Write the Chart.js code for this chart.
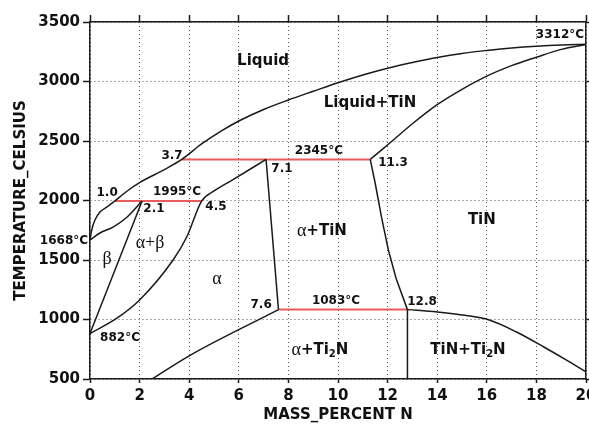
<!DOCTYPE html>
<html>
<head>
    <title>Ti-N phase diagram</title>
    <script src="https://cdn.jsdelivr.net/npm/chart.js"></script>
    <style>
        html, body { margin: 0; padding: 0; background: white; }
        #wrap { width: 589px; height: 426px; }
    </style>
</head>
<body>
<div id="wrap"><canvas id="phaseChart" width="589" height="426"></canvas></div>
<script>
    // Axis ranges / ticks
    const xTicks = [0, 2, 4, 6, 8, 10, 12, 14, 16, 18, 20];
    const yTicks = [500, 1000, 1500, 2000, 2500, 3000, 3500];

    // Phase boundaries (mass % N, temperature C)
    const liquidusX = [1.0, 1.5, 2.0, 3.0, 3.7, 4.5, 5.3, 6.0, 7.0, 8.0, 9.0, 10.0, 11.0, 12.0, 13.0, 14.0, 15.0, 16.0, 17.0, 18.0, 19.0, 20.0];
    const liquidusT = [1995, 2080, 2150, 2260, 2345, 2475, 2585, 2668, 2765, 2845, 2918, 2990, 3055, 3112, 3160, 3202, 3236, 3261, 3282, 3297, 3307, 3312];

    const tinLiqX = [11.3, 11.7, 12.1, 13.0, 14.0, 15.0, 16.0, 17.0, 18.0, 19.0, 20.0];
    const tinLiqT = [2345, 2415, 2485, 2645, 2805, 2934, 3045, 3133, 3204, 3270, 3312];

    const betaLiqX = [0, 0.07, 0.2, 0.4, 0.7, 1.0];
    const betaLiqT = [1668, 1752, 1836, 1903, 1948, 1995];

    const betaSolX = [0, 0.4, 0.93, 1.5, 2.1];
    const betaSolT = [1668, 1727, 1777, 1861, 1995];

    const betaAlphaX = [0, 2.1];
    const betaAlphaT = [882, 1995];

    const alphaX = [0, 1.1, 2.0, 3.35, 3.9, 4.5, 5.0, 5.8, 7.1];
    const alphaT = [882, 1013, 1164, 1500, 1693, 1995, 2080, 2180, 2345];

    const alphaTinX = [7.1, 7.6];
    const alphaTinT = [2345, 1083];

    const ti2nLeftX = [2.5, 4.0, 7.6];
    const ti2nLeftT = [500, 695, 1083];

    const tinLeftX = [11.3, 11.5, 11.75, 12.03, 12.35, 12.8];
    const tinLeftT = [2345, 2145, 1864, 1584, 1340, 1083];

    const tinRightX = [12.8, 14.0, 15.0, 16.1, 17.2, 18.3, 19.2, 20.0];
    const tinRightT = [1083, 1063, 1038, 996, 895, 769, 660, 559];

    const ti2nVertX = [12.8, 12.8];
    const ti2nVertT = [1083, 500];

    // Invariant (red) lines
    const iso1995X = [1.0, 4.5];
    const iso1995T = [1995, 1995];
    const iso2345X = [3.7, 11.3];
    const iso2345T = [2345, 2345];
    const iso1083X = [7.6, 12.8];
    const iso1083T = [1083, 1083];

    function pts(xs, ts) {
        return xs.map((x, i) => ({ x: x, y: ts[i] }));
    }

    function curve(xs, ts, smooth) {
        return {
            data: pts(xs, ts),
            showLine: true,
            borderColor: '#1a1a1a',
            borderWidth: 1.5,
            pointRadius: 0,
            cubicInterpolationMode: smooth ? 'monotone' : 'default',
            tension: 0,
            fill: false
        };
    }

    function redLine(xs, ts) {
        return {
            data: pts(xs, ts),
            showLine: true,
            borderColor: 'rgb(232, 92, 92)',
            borderWidth: 2,
            pointRadius: 0,
            fill: false
        };
    }

    // Text labels: [segments, x, T]
    const SANS = '"DejaVu Sans", Verdana, sans-serif';
    const SERIF = '"Liberation Serif", "DejaVu Serif", serif';
    const bold15 = 'bold 15px ' + SANS;
    const bold12 = 'bold 12px ' + SANS;
    const greek = '18px ' + SERIF;

    const labels = [
        [[['Liquid', bold15]], 6.98, 3172],
        [[['Liquid+TiN', bold15]], 11.29, 2819],
        [[['3312°C', bold12]], 18.95, 3391],
        [[['2345°C', bold12]], 9.23, 2416],
        [[['11.3', bold12]], 12.22, 2315],
        [[['3.7', bold12]], 3.31, 2374],
        [[['7.1', bold12]], 7.74, 2265],
        [[['1.0', bold12]], 0.69, 2063],
        [[['1995°C', bold12]], 3.51, 2071],
        [[['2.1', bold12]], 2.58, 1929],
        [[['4.5', bold12]], 5.08, 1945],
        [[['1668°C', bold12]], -1.05, 1660],
        [[['β', greek]], 0.69, 1508],
        [[['α+β', greek]], 2.42, 1643],
        [[['α', greek]], 5.12, 1340],
        [[['7.6', bold12]], 6.9, 1122],
        [[['882°C', bold12]], 1.21, 845],
        [[['α', greek], ['+TiN', bold15]], 9.35, 1744],
        [[['TiN', bold15]], 15.8, 1836],
        [[['1083°C', bold12]], 9.92, 1156],
        [[['12.8', bold12]], 13.39, 1147],
        [[['α', greek], ['+Ti', bold15], ['2', 'bold 10px ' + SANS, 4], ['N', bold15]], 9.27, 744],
        [[['TiN+Ti', bold15], ['2', 'bold 10px ' + SANS, 4], ['N', bold15]], 15.24, 744]
    ];

    const labelPlugin = {
        id: 'phaseLabels',
        afterDatasetsDraw(chart) {
            const ctx = chart.ctx;
            const xs = chart.scales.x;
            const ys = chart.scales.y;
            ctx.save();
            ctx.fillStyle = '#111';
            ctx.textBaseline = 'middle';
            ctx.textAlign = 'left';
            labels.forEach(([segs, x, t]) => {
                let w = 0;
                segs.forEach(s => { ctx.font = s[1]; w += ctx.measureText(s[0]).width; });
                let px = xs.getPixelForValue(x) - w / 2;
                const py = ys.getPixelForValue(t);
                segs.forEach(s => {
                    ctx.font = s[1];
                    ctx.fillText(s[0], px, py + (s[2] || 0));
                    px += ctx.measureText(s[0]).width;
                });
            });
            ctx.restore();
        }
    };

    const tickFont = { family: SANS, size: 15, weight: 'bold' };

    function noPad(s) {
        s.paddingLeft = 0;
        s.paddingRight = 0;
        s.paddingTop = 0;
        s.paddingBottom = 0;
    }

    const config = {
        type: 'scatter',
        data: {
            datasets: [
                curve(liquidusX, liquidusT, true),
                curve(tinLiqX, tinLiqT, true),
                curve(betaLiqX, betaLiqT, true),
                curve(betaSolX, betaSolT, true),
                curve(betaAlphaX, betaAlphaT, false),
                curve(alphaX, alphaT, true),
                curve(alphaTinX, alphaTinT, false),
                curve(ti2nLeftX, ti2nLeftT, true),
                curve(tinLeftX, tinLeftT, false),
                curve(tinRightX, tinRightT, true),
                curve(ti2nVertX, ti2nVertT, false),
                redLine(iso1995X, iso1995T),
                redLine(iso2345X, iso2345T),
                redLine(iso1083X, iso1083T)
            ]
        },
        options: {
            responsive: false,
            animation: false,
            layout: { padding: 0 },
            plugins: {
                legend: { display: false },
                tooltip: { enabled: false }
            },
            scales: {
                x: {
                    type: 'linear',
                    position: 'bottom',
                    min: 0,
                    max: 20,
                    afterBuildTicks: s => { s.ticks = xTicks.map(v => ({ value: v })); },
                    afterFit: s => { s.height = 47; noPad(s); },
                    grid: {
                        color: '#555',
                        lineWidth: 1,
                        tickLength: 4,
                        tickColor: '#1a1a1a',
                        tickWidth: 1.5,
                        tickBorderDash: []
                    },
                    border: { display: true, color: '#1a1a1a', width: 1.5, dash: [1, 3] },
                    ticks: { color: '#111', font: tickFont, padding: 4, maxRotation: 0, callback: v => String(v) },
                    title: {
                        display: true,
                        text: 'MASS_PERCENT N',
                        color: '#111',
                        font: { family: SANS, size: 15, weight: 'bold' },
                        padding: { top: 0, bottom: 2 }
                    }
                },
                x2: {
                    type: 'linear',
                    position: 'top',
                    min: 0,
                    max: 20,
                    afterBuildTicks: s => { s.ticks = xTicks.map(v => ({ value: v })); },
                    afterFit: s => { s.height = 22; noPad(s); },
                    grid: {
                        drawOnChartArea: false,
                        tickLength: 7,
                        tickColor: '#1a1a1a',
                        tickWidth: 1.5,
                        tickBorderDash: []
                    },
                    border: { display: true, color: '#1a1a1a', width: 1.5 },
                    ticks: { display: false }
                },
                y: {
                    type: 'linear',
                    position: 'left',
                    min: 500,
                    max: 3500,
                    afterBuildTicks: s => { s.ticks = yTicks.map(v => ({ value: v })); },
                    afterFit: s => { s.width = 90; noPad(s); },
                    grid: {
                        color: '#555',
                        lineWidth: 1,
                        tickLength: 7,
                        tickColor: '#1a1a1a',
                        tickWidth: 1.5,
                        tickBorderDash: []
                    },
                    border: { display: true, color: '#1a1a1a', width: 1.5, dash: [1, 3] },
                    ticks: { color: '#111', font: tickFont, padding: 3, callback: v => String(v) },
                    title: {
                        display: true,
                        text: 'TEMPERATURE_CELSIUS',
                        color: '#111',
                        font: { family: SANS, size: 15, weight: 'bold' },
                        padding: { top: 12, bottom: 0 }
                    }
                },
                y2: {
                    type: 'linear',
                    position: 'right',
                    min: 500,
                    max: 3500,
                    afterBuildTicks: s => { s.ticks = yTicks.map(v => ({ value: v })); },
                    afterFit: s => { s.width = 3; noPad(s); },
                    grid: {
                        drawOnChartArea: false,
                        tickLength: 3,
                        tickColor: '#1a1a1a',
                        tickWidth: 1.5,
                        tickBorderDash: []
                    },
                    border: { display: true, color: '#1a1a1a', width: 1.5 },
                    ticks: { display: false }
                }
            }
        },
        plugins: [labelPlugin]
    };

    const ctx = document.getElementById('phaseChart').getContext('2d');
    new Chart(ctx, config);
</script>
</body>
</html>
